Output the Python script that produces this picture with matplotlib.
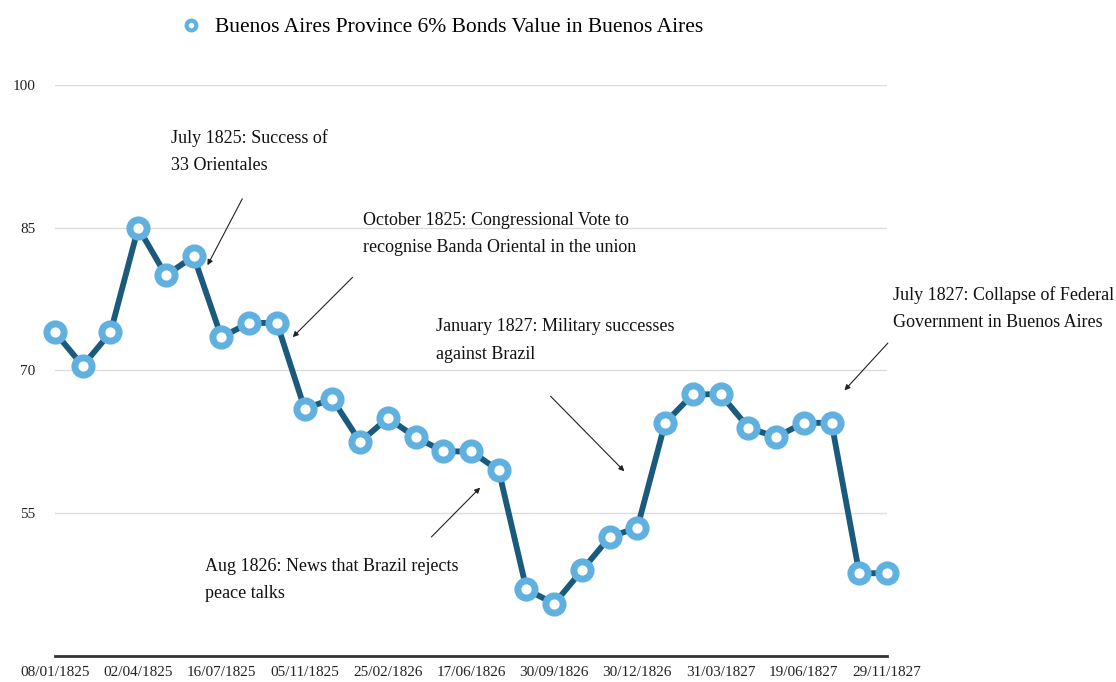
import matplotlib
matplotlib.use("Agg")
import matplotlib.pyplot as plt
from matplotlib.lines import Line2D

dates = ["08/01/1825", "", "", "02/04/1825", "", "", "16/07/1825", "", "",
         "05/11/1825", "", "", "25/02/1826", "", "", "17/06/1826", "", "",
         "30/09/1826", "", "", "30/12/1826", "", "", "31/03/1827", "", "",
         "19/06/1827", "", "", "29/11/1827"]
bond_values = [74, 70.5, 74, 85, 80, 82, 73.5, 75, 75, 66, 67, 62.5, 65, 63,
               61.5, 61.5, 59.5, 47, 45.5, 49, 52.5, 53.5, 64.5, 67.5, 67.5,
               64, 63, 64.5, 64.5, 48.7, 48.7]
y_ticks = [100, 85, 70, 55]
series_name = "Buenos Aires Province 6% Bonds Value in Buenos Aires"

# (text, text position, arrow tail, arrow tip) in data units
notes = [
    ("July 1825: Success of\n33 Orientales", (4.2, 95.4), (6.8, 88.3), (5.45, 80.8)),
    ("October 1825: Congressional Vote to\nrecognise Banda Oriental in the union",
     (11.1, 86.7), (10.8, 80.0), (8.5, 73.3)),
    ("January 1827: Military successes\nagainst Brazil", (13.75, 75.5), (17.8, 67.5), (20.6, 59.2)),
    ("July 1827: Collapse of Federal\nGovernment in Buenos Aires", (30.2, 78.9), (30.1, 73.1), (28.4, 67.7)),
    ("Aug 1826: News that Brazil rejects\npeace talks", (5.4, 50.3), (13.5, 52.3), (15.4, 57.9)),
]

line_color = '#1a5a7c'
marker_color = '#60b1e0'

plt.rcParams['font.family'] = ['Liberation Serif', 'DejaVu Serif']

fig = plt.figure(figsize=(11.16, 6.82), dpi=100)
ax = fig.add_axes([0.0493, 0.0381, 0.7455, 0.8373])

x = list(range(len(bond_values)))
ax.plot(x, bond_values, color=line_color, linewidth=4.2, marker='o',
        markersize=12.4, markerfacecolor='white', markeredgecolor=marker_color,
        markeredgewidth=5, zorder=3, clip_on=False)

ax.set_xlim(0, len(bond_values) - 1)
ax.set_ylim(40, 100)
ax.set_yticks(y_ticks)
ax.set_yticklabels([str(v) for v in y_ticks])
ax.set_xticks(x)
ax.set_xticklabels(dates)
ax.grid(axis='y', color='#dddddd', linewidth=1)
ax.set_axisbelow(True)
for s in ['top', 'right', 'left']:
    ax.spines[s].set_visible(False)
ax.spines['bottom'].set_color('#333333')
ax.spines['bottom'].set_linewidth(2)
ax.tick_params(axis='both', length=0, labelsize=11, colors='#222222')
ax.tick_params(axis='y', pad=14)
ax.tick_params(axis='x', pad=7.5)

for text, tpos, tail, tip in notes:
    ax.text(tpos[0], tpos[1], text, fontsize=13, va='top', ha='left',
            linespacing=1.8, color='#111111', clip_on=False)
    ax.annotate("", xy=tip, xytext=tail,
                arrowprops=dict(arrowstyle='-|>', color='#222222', lw=0.8,
                                mutation_scale=8), annotation_clip=False)

handle = Line2D([], [], linestyle='none', marker='o', markersize=7,
                markerfacecolor='white', markeredgecolor=marker_color, markeredgewidth=3)
fig.legend(handles=[handle], labels=[series_name], loc='center left',
           bbox_to_anchor=(0.148, 0.96), frameon=False, fontsize=15.5,
           handlelength=0.6, handletextpad=0.8)

fig.savefig("out.png", dpi=100)
